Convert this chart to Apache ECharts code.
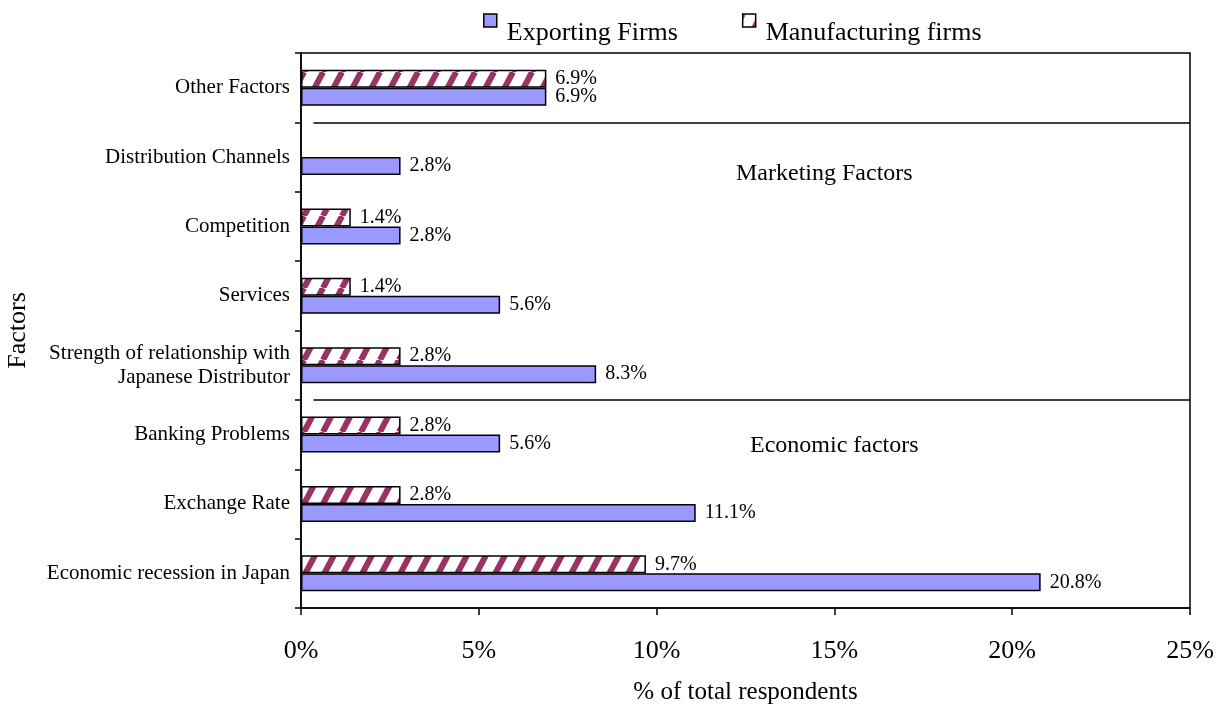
<!DOCTYPE html>
<html>
<head>
<meta charset="utf-8">
<script src="https://cdn.jsdelivr.net/npm/echarts@6/dist/echarts.min.js"></script>
<style>
  html, body { margin: 0; padding: 0; background: #fff; }
  #chart { width: 1225px; height: 707px; }
</style>
</head>
<body>
<div id="chart"></div>
<script>
const categories = [
  'Economic recession in Japan',
  'Exchange Rate',
  'Banking Problems',
  'Strength of relationship with\nJapanese Distributor',
  'Services',
  'Competition',
  'Distribution Channels',
  'Other Factors'
]
const exportingFirms = [20.8, 11.1, 5.6, 8.3, 5.6, 2.8, 2.8, 6.9]
const manufacturingFirms = [9.7, 2.8, 2.8, 2.8, 1.4, 1.4, null, 6.9]
// group boundaries, counted in categories from the bottom
const groupBreaks = [3, 7]

const FONT = '"Liberation Serif", "Times New Roman", serif'

// maroon diagonal hatch on white
function hatchPattern() {
  const w = 19, h = 36
  const c = document.createElement('canvas')
  c.width = w
  c.height = h
  const g = c.getContext('2d')
  g.fillStyle = '#fff'
  g.fillRect(0, 0, w, h)
  g.strokeStyle = '#993366'
  g.lineWidth = 6
  g.beginPath()
  for (let k = -1; k <= 1; k++) {
    g.moveTo(k * w, h)
    g.lineTo(k * w + w, 0)
  }
  g.stroke()
  return c
}

const chart = echarts.init(document.getElementById('chart'))

const labelStyle = {
  show: true,
  position: 'right',
  distance: 9,
  color: '#000',
  fontFamily: FONT,
  fontSize: 20,
  formatter: (p) => p.value + '%'
}

chart.setOption({
  animation: false,
  textStyle: { fontFamily: FONT, color: '#000' },
  legend: {
    data: ['Exporting Firms', 'Manufacturing firms'],
    top: -5,
    left: 483,
    padding: 0,
    icon: 'rect',
    itemWidth: 13,
    itemHeight: 13,
    itemGap: 64,
    itemStyle: { borderColor: '#000', borderWidth: 1.5 },
    formatter: '{t|{name}}',
    textStyle: {
      fontFamily: FONT,
      fontSize: 26,
      color: '#000',
      rich: {
        t: { fontFamily: FONT, fontSize: 26, color: '#000', lineHeight: 26, padding: [25, 0, 0, 5] }
      }
    }
  },
  grid: {
    left: 301,
    right: 35,
    top: 53,
    bottom: 99,
    outerBoundsMode: 'none',
    containLabel: false,
    show: true,
    borderColor: '#000',
    borderWidth: 1.5,
    backgroundColor: 'transparent'
  },
  xAxis: {
    type: 'value',
    min: 0,
    max: 25,
    interval: 5,
    name: '% of total respondents',
    nameLocation: 'middle',
    nameGap: 72,
    nameTextStyle: { fontFamily: FONT, fontSize: 25, color: '#000' },
    axisLine: { show: true, lineStyle: { color: '#000', width: 1.5 } },
    axisTick: { show: true, length: 7, lineStyle: { color: '#000', width: 1.5 } },
    axisLabel: { formatter: '{value}%', fontFamily: FONT, fontSize: 26, color: '#000', margin: 30 },
    splitLine: { show: false }
  },
  yAxis: [
    {
      type: 'category',
      data: categories,
      name: 'Factors',
      nameLocation: 'middle',
      nameGap: 270,
      nameTextStyle: { fontFamily: FONT, fontSize: 26, color: '#000' },
      axisLine: { show: true, lineStyle: { color: '#000', width: 1.5 } },
      axisTick: { show: true, length: 6, lineStyle: { color: '#000', width: 1.5 } },
      axisLabel: { fontFamily: FONT, fontSize: 21, color: '#000', margin: 11, lineHeight: 24, align: 'right' }
    },
    {
      type: 'value',
      min: 0,
      max: categories.length,
      show: false
    }
  ],
  series: [
    {
      name: 'Manufacturing firms',
      type: 'bar',
      data: manufacturingFirms,
      barWidth: 18,
      barGap: '0%',
      itemStyle: {
        color: { image: hatchPattern(), repeat: 'repeat' },
        borderColor: '#000',
        borderWidth: 1.5
      },
      label: labelStyle
    },
    {
      name: 'Exporting Firms',
      type: 'bar',
      data: exportingFirms,
      barWidth: 18,
      barGap: '0%',
      itemStyle: { color: '#9999ff', borderColor: '#000', borderWidth: 1.5 },
      label: labelStyle
    },
    {
      name: 'groups',
      type: 'line',
      yAxisIndex: 1,
      data: [],
      silent: true,
      markLine: {
        silent: true,
        symbol: ['none', 'none'],
        label: { show: false },
        lineStyle: { color: '#000', width: 1.5, type: 'solid' },
        data: groupBreaks.map((b) => [
          { coord: [0.35, b] },
          { coord: [25, b] }
        ])
      }
    }
  ],
  graphic: [
    {
      type: 'text',
      left: 736,
      top: 162,
      style: { text: 'Marketing Factors', fontFamily: FONT, fontSize: 24, fill: '#000' }
    },
    {
      type: 'text',
      left: 750,
      top: 434,
      style: { text: 'Economic factors', fontFamily: FONT, fontSize: 24, fill: '#000' }
    }
  ]
})
</script>
</body>
</html>
